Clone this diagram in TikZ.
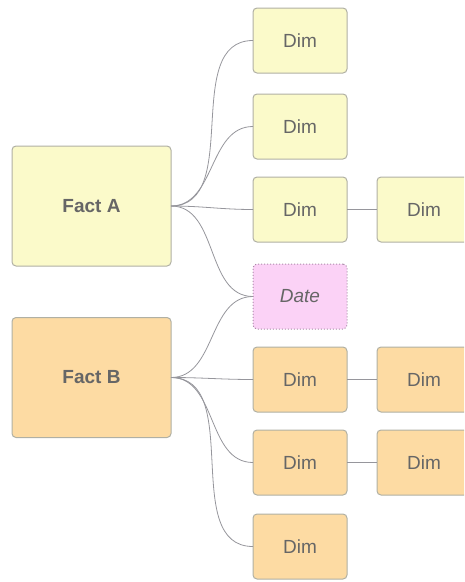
\documentclass[tikz,border=0pt]{standalone}
\usepackage{fontspec}
\setmainfont{Liberation Sans}
\usetikzlibrary{positioning}
\definecolor{softyellow}{RGB}{251,250,202}
\definecolor{softorange}{RGB}{253,219,163}
\definecolor{softpink}{RGB}{251,210,246}
\definecolor{boxline}{RGB}{176,176,164}
\definecolor{dotline}{RGB}{170,140,168}
\definecolor{textgray}{RGB}{102,102,102}
\definecolor{linkgray}{RGB}{150,150,156}
\tikzset{dbox/.style={draw=boxline, rounded corners=4pt, line width=1pt, inner sep=0pt, outer sep=0pt, text=textgray, minimum width=94pt, minimum height=65pt, font=\fontsize{19}{22}\selectfont}, ybox/.style={dbox, fill=softyellow}, obox/.style={dbox, fill=softorange}, pbox/.style={dbox, fill=softpink, draw=dotline, dotted, font=\fontsize{19}{22}\selectfont\itshape}, fbox/.style={dbox, minimum width=159pt, minimum height=120pt, font=\fontsize{19}{22}\selectfont\bfseries}, link/.style={draw=linkgray, line width=0.8pt}}

\begin{document}
\begin{tikzpicture}[x=1pt,y=1pt,node distance=18pt]
\useasboundingbox (0,0) rectangle (464,-582);
\clip (0,0) rectangle (464,-582);
\node[fbox,fill=softyellow] (factA) at (91.5,-206) {Fact A};
\node[fbox,fill=softorange] (factB) at (91.5,-377.5) {Fact B};
\node[ybox] (dimA) at (300,-40.5) {Dim};
\node[ybox,below=21pt of dimA] (dimB) {Dim};
\node[ybox,below=of dimB] (dimC) {Dim};
\node[pbox,below=22pt of dimC] (date) {Date};
\node[obox,below=of date] (dimD) {Dim};
\node[obox,below=of dimD] (dimE) {Dim};
\node[obox,below=19pt of dimE] (dimF) {Dim};
\node[ybox,right=30pt of dimC] (subC) {Dim};
\node[obox,right=30pt of dimD] (subD) {Dim};
\node[obox,right=30pt of dimE] (subE) {Dim};
\draw[link] (factA.east) to[out=0,in=180] (dimA.west); \draw[link] (factA.east) to[out=0,in=180] (dimB.west); \draw[link] (factA.east) to[out=0,in=180] (dimC.west); \draw[link] (factA.east) to[out=0,in=180] (date.west);
\draw[link] (factB.east) to[out=0,in=180] (date.west); \draw[link] (factB.east) to[out=0,in=180] (dimD.west); \draw[link] (factB.east) to[out=0,in=180] (dimE.west); \draw[link] (factB.east) to[out=0,in=180] (dimF.west);
\draw[link] (dimC)--(subC); \draw[link] (dimD)--(subD); \draw[link] (dimE)--(subE);
\end{tikzpicture}
\end{document}
